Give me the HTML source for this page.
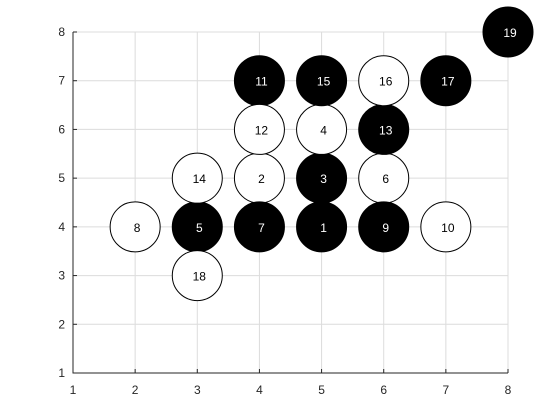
<!DOCTYPE html>
<html><head><meta charset="utf-8"><style>
html,body{margin:0;padding:0;background:#fff;}
svg{display:block;font-family:"Liberation Sans",Arial,sans-serif;}
</style></head><body>
<svg id="chart" width="560" height="420"></svg>
<script>
const labels=[1,2,3,4,5,6,7,8,9,10,11,12,13,14,15,16,17,18,19];
const xs=[5,4,5,5,3,6,4,2,6,7,4,4,6,3,5,6,7,3,8];
const ys=[4,5,5,6,4,5,4,4,4,4,7,6,6,5,7,7,7,3,8];
const filled=[1,0,1,0,1,0,1,0,1,0,1,0,1,0,1,0,1,0,1];
const xTicks=[1,2,3,4,5,6,7,8];
const yTicks=[1,2,3,4,5,6,7,8];
const NS="http://www.w3.org/2000/svg";
const svg=document.getElementById('chart');
const L=73,R=508,T=32,B=373;
const xS=v=>L+(v-1)/7*(R-L);
const yS=v=>B-(v-1)/7*(B-T);
function mk(t,a,p){const e=document.createElementNS(NS,t);for(const k in a)e.setAttribute(k,a[k]);(p||svg).appendChild(e);return e;}
const grid=mk('g',{});


xTicks.forEach(v=>{mk('line',{x1:xS(v),x2:xS(v),y1:T,y2:B,stroke:'#dcdcdc','stroke-width':1},grid);});
yTicks.forEach(v=>{mk('line',{x1:L,x2:R,y1:yS(v),y2:yS(v),stroke:'#dcdcdc','stroke-width':1},grid);});
const ax=mk('g',{});


mk('line',{x1:L,x2:L,y1:T,y2:B+0.5,stroke:'#262626','stroke-width':1},ax);
mk('line',{x1:L,x2:R,y1:B,y2:B,stroke:'#262626','stroke-width':1},ax);
xTicks.forEach(v=>{
 mk('line',{x1:xS(v),x2:xS(v),y1:B,y2:B-4,stroke:'#262626'},ax);
 const t=mk('text',{x:xS(v),y:B+21,'text-anchor':'middle','font-size':12,fill:'#262626'},ax);t.textContent=v;
 
 
});
yTicks.forEach(v=>{
 mk('line',{x1:L,x2:L+4,y1:yS(v),y2:yS(v),stroke:'#262626'},ax);
 const t=mk('text',{x:L-8,y:yS(v)+4,'text-anchor':'end','font-size':12,fill:'#262626'},ax);t.textContent=v;
 
 
});
labels.forEach((lab,i)=>{
 const g=mk('g',{});
 
 
 const f=filled[i];
 mk('circle',{cx:xS(xs[i]),cy:yS(ys[i]),r:25,fill:f?'#000':'#fff',stroke:'#000','stroke-width':1},g);
 const t=mk('text',{x:xS(xs[i])+2,y:yS(ys[i])+5,'text-anchor':'middle','font-size':12,fill:f?'#fff':'#000'},g);
 t.textContent=lab;
});
</script>
</body></html>
